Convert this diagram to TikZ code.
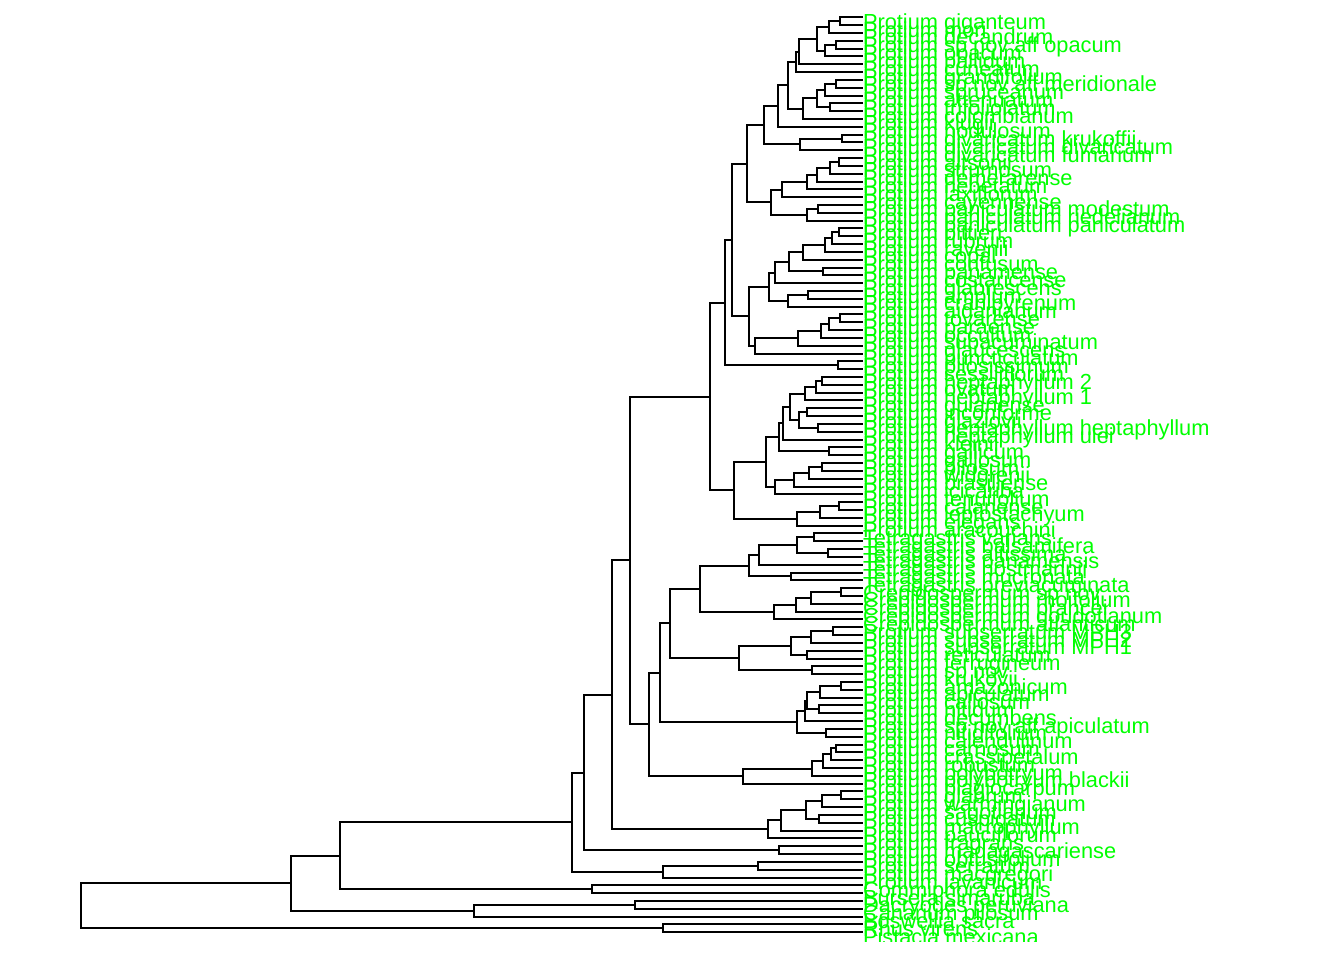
\documentclass[tikz,border=0pt]{standalone}
\usepackage{fontspec}
\usetikzlibrary{calc}
\newfontfamily\labfont{Liberation Sans}
\definecolor{tipgreen}{HTML}{00FF00}
\tikzset{
  br/.style={line width=2bp, line cap=butt, line join=miter, black},
  lab/.style={anchor=base west, inner sep=0pt, outer sep=0pt, text=tipgreen,
    font=\labfont\fontsize{21.8bp}{26bp}\selectfont}
}
% internal node: name, x, child1, child2
\newcommand\mknode[4]{%
  \path let \p1=($(#3)!0.5!(#4)$) in (#2bp,\y1) coordinate (#1);
  \draw[br] (#3) -| (#1) |- (#4);}
\begin{document}
\begin{tikzpicture}[x=1bp,y=-1bp]
\useasboundingbox (0,0) rectangle (1344,960);
\fill[white] (0,0) rectangle (1344,960);
\foreach \i in {0,...,117}{\coordinate (t\i) at (863,{17.3+7.82*\i});}
% top clade
\mknode{nA}{839.7}{t0}{t1}
\mknode{nB}{828.5}{nA}{t2}
\mknode{nC}{836}{t3}{t4}
\mknode{nD}{825.1}{nC}{t5}
\mknode{nE}{816.7}{nB}{nD}
\mknode{nF}{798.8}{nE}{t6}
\mknode{nG}{795.7}{nF}{t7}
\mknode{nH}{836}{t8}{t9}
\mknode{nI}{825.1}{nH}{t10}
\mknode{nJ}{830.2}{t11}{t12}
\mknode{nK}{816.7}{nI}{nJ}
\mknode{nL}{803.2}{nK}{t13}
\mknode{nM}{788}{nG}{nL}
\mknode{nN}{777.8}{nM}{t14}
\mknode{nO}{842}{t15}{t16}
\mknode{nP}{799.8}{nO}{t17}
\mknode{nQ}{764.3}{nN}{nP}
\mknode{nR}{838.6}{t18}{t19}
\mknode{nS}{830.2}{nR}{t20}
\mknode{nT}{816.7}{nS}{t21}
\mknode{nU}{806.6}{nT}{t22}
\mknode{nV}{781.9}{nU}{t23}
\mknode{nW}{818.4}{t24}{t25}
\mknode{nX}{806.6}{nW}{t26}
\mknode{nY}{771.1}{nV}{nX}
\mknode{nZ}{747.4}{nQ}{nY}
\mknode{nAA}{838.6}{t27}{t28}
\mknode{nAB}{831.9}{nAA}{t29}
\mknode{nAC}{825.1}{nAB}{t30}
\mknode{nAD}{802.5}{nAC}{t31}
\mknode{nAE}{823.4}{t32}{t33}
\mknode{nAF}{788.6}{nAD}{nAE}
\mknode{nAG}{775.1}{nAF}{t34}
\mknode{nAH}{808.2}{t35}{t36}
\mknode{nAI}{788}{nAH}{t37}
\mknode{nAJ}{769.4}{nAG}{nAI}
\mknode{nAK}{840.3}{t38}{t39}
\mknode{nAL}{829.2}{nAK}{t40}
\mknode{nAM}{821.1}{nAL}{t41}
\mknode{nAN}{797.5}{nAM}{t42}
\mknode{nAO}{755.2}{nAN}{t43}
\mknode{nAP}{749.1}{nAJ}{nAO}
\mknode{nAQ}{731.6}{nZ}{nAP}
\mknode{nAR}{837.6}{t44}{t45}
\mknode{nAS}{724.8}{nAQ}{nAR}
% heptaphyllum group
\mknode{nGA}{821.8}{t46}{t47}
\mknode{nGB}{815.8}{nGA}{t48}
\mknode{nGC}{804.9}{nGB}{t49}
\mknode{nGD}{806.6}{t50}{t51}
\mknode{nGE}{817.8}{t52}{t53}
\mknode{nGF}{798.9}{nGD}{nGE}
\mknode{nGG}{790.4}{nGC}{nGF}
\mknode{nGH}{783}{nGG}{t54}
\mknode{nGI}{828.6}{t55}{t56}
\mknode{nGJ}{778.6}{nGH}{nGI}
\mknode{nHA}{822}{t57}{t58}
\mknode{nHB}{809}{nHA}{t59}
\mknode{nHC}{794.1}{nHB}{t60}
\mknode{nHD}{774.8}{nHC}{t61}
\mknode{nHE}{766}{nGJ}{nHD}
\mknode{nDA}{839.1}{t62}{t63}
\mknode{nDB}{819.8}{nDA}{t64}
\mknode{nDC}{796.9}{nDB}{t65}
\mknode{nHF}{733.8}{nHE}{nDC}
\mknode{nAT}{710.3}{nAS}{nHF}
% Tetragastris / Crepidospermum
\mknode{nEA}{813.8}{t66}{t67}
\mknode{nEB}{827.8}{t68}{t69}
\mknode{nEC}{796.9}{nEA}{nEB}
\mknode{nED}{758.7}{nEC}{t70}
\mknode{nEE}{790.9}{t71}{t72}
\mknode{nEF}{748.7}{nED}{nEE}
\mknode{nCA}{841.1}{t73}{t74}
\mknode{nCB}{811}{nCA}{t75}
\mknode{nCC}{795.7}{nCB}{t76}
\mknode{nCD}{774}{nCC}{t77}
\mknode{nCE}{699.7}{nEF}{nCD}
\mknode{nCF}{833.1}{t78}{t79}
\mknode{nCG}{811}{nCF}{t80}
\mknode{nCH}{807}{t81}{t82}
\mknode{nCI}{790.9}{nCG}{nCH}
\mknode{nCJ}{811.8}{t83}{t84}
\mknode{nCK}{738.7}{nCI}{nCJ}
\mknode{nCL}{670.4}{nCE}{nCK}
\mknode{nCN}{841.1}{t85}{t86}
\mknode{nCO}{819.8}{nCN}{t87}
\mknode{nBA}{819}{t88}{t89}
\mknode{nBB}{807}{nCO}{nBA}
\mknode{nBC}{805.3}{nBB}{t90}
\mknode{nBE}{826.2}{t91}{t92}
\mknode{nBD}{796.9}{nBC}{nBE}
\mknode{nCM}{660.3}{nCL}{nBD}
\mknode{nBF}{835.9}{t93}{t94}
\mknode{nBG}{831.1}{nBF}{t95}
\mknode{nBH}{823}{nBG}{t96}
\mknode{nBI}{811.8}{nBH}{t97}
\mknode{nBJ}{742.7}{nBI}{t98}
\mknode{nCP}{649.1}{nCM}{nBJ}
\mknode{nCQ}{630.2}{nAT}{nCP}
\mknode{nFD}{841.1}{t99}{t100}
\mknode{nFC}{822.2}{nFD}{t101}
\mknode{nFA}{819}{t102}{t103}
\mknode{nFB}{805.7}{nFC}{nFA}
\mknode{nFE}{780.8}{nFB}{t104}
\mknode{nFF}{768.4}{nFE}{t105}
\mknode{nCR}{612.2}{nCQ}{nFF}
\mknode{nDE}{779.4}{t106}{t107}
\mknode{nCT}{584.3}{nCR}{nDE}
\mknode{nDD}{758.4}{t108}{t109}
\mknode{nCW}{662.9}{nDD}{t110}
\mknode{nCV}{572.1}{nCT}{nCW}
\mknode{nGB2}{591.7}{t111}{t112}
\mknode{nCX}{340.1}{nCV}{nGB2}
\mknode{nGC3}{635}{t113}{t114}
\mknode{nCZ}{474}{nGC3}{t115}
\mknode{nCY}{290.8}{nCX}{nCZ}
\mknode{nGD4}{662.9}{t116}{t117}
\mknode{nRoot}{81}{nCY}{nGD4}
\begin{scope}
\clip (0,0) rectangle (1344,941);
\foreach \i/\t in {
0/Protium giganteum, 1/Protium mori, 2/Protium decandrum, 3/Protium sp nov aff opacum,
4/Protium opacum, 5/Protium pallidum, 6/Protium cuneatum, 7/Protium grandifolium,
8/Protium sp nov aff meridionale, 9/Protium spruceanum, 10/Protium attenuatum,
11/Protium trifoliolatum, 12/Protium colombianum, 13/Protium klugii, 14/Protium nodulosum,
15/Protium divaricatum krukoffii, 16/Protium divaricatum divaricatum,
17/Protium divaricatum fumarium, 18/Protium altsonii, 19/Protium strumosum,
20/Protium demerarense, 21/Protium hebetatum, 22/Protium laxiflorum, 23/Protium cayennense,
24/Protium paniculatum modestum, 25/Protium paniculatum riedelianum,
26/Protium paniculatum paniculatum, 27/Protium pittieri, 28/Protium rubrum,
29/Protium ravenii, 30/Protium copal, 31/Protium confusum, 32/Protium panamense,
33/Protium costaricense, 34/Protium glabrescens, 35/Protium amplum, 36/Protium cranipyrenum,
37/Protium aidanianum, 38/Protium tovarense, 39/Protium paraense, 40/Protium occultum,
41/Protium subacuminatum, 42/Protium glaucescens, 43/Protium puncticulatum,
44/Protium pilosissimum, 45/Protium sessiliflorum, 46/Protium heptaphyllum 2,
47/Protium ovatum, 48/Protium heptaphyllum 1, 49/Protium guianense, 50/Protium inconforme,
51/Protium glaziovii, 52/Protium heptaphyllum heptaphyllum, 53/Protium heptaphyllum ulei,
54/Protium kleinii, 55/Protium gallicum, 56/Protium gallosum, 57/Protium pilosum,
58/Protium widgrenii, 59/Protium brasiliense, 60/Protium icicariba, 61/Protium tenuifolium,
62/Protium calanense, 63/Protium leptostachyum, 64/Protium elegans, 65/Protium aracouchini,
66/Tetragastris varians, 67/Tetragastris balsamifera, 68/Tetragastris altissima,
69/Tetragastris panamensis, 70/Tetragastris hostmannii, 71/Tetragastris mucronata,
72/Tetragastris breviacuminata, 73/Crepidospermum sp nov, 74/Crepidospermum rhoifolium,
75/Crepidospermum prancei, 76/Crepidospermum goudotianum, 77/Crepidospermum atlanticum,
78/Protium subserratum MPH3, 79/Protium subserratum MPH2, 80/Protium subserratum MPH1,
81/Protium reticulatum, 82/Protium ferrugineum, 83/Protium sp nov, 84/Protium krukovii,
85/Protium amazonicum, 86/Protium apiculatum, 87/Protium callosum, 88/Protium nitidum,
89/Protium decumbens, 90/Protium sp nov aff apiculatum, 91/Protium nitidifolium,
92/Protium calendulinum, 93/Protium carnosum, 94/Protium crassipetalum, 95/Protium robustum,
96/Protium polybotryum, 97/Protium polybotryum blackii, 98/Protium plagiocarpum,
99/Protium glabrum, 100/Protium warmingianum, 101/Protium sagotianum, 102/Protium cuspidatum,
103/Protium macrophyllum, 104/Protium pauciflorum, 105/Protium fragrans,
106/Protium madagascariense, 107/Protium obtusifolium, 108/Protium serratum,
109/Protium macgregori, 110/Protium javanicum, 111/Commiphora edulis, 112/Bursera simaruba,
113/Dacryodes peruviana, 114/Canarium pilosum, 115/Boswellia sacra, 116/Rhus virens,
117/Pistacia mexicana}{
  \node[lab] (L\i) at (863,{29.3+7.82*\i}) {\t};
}
\end{scope}
\end{tikzpicture}
\end{document}
